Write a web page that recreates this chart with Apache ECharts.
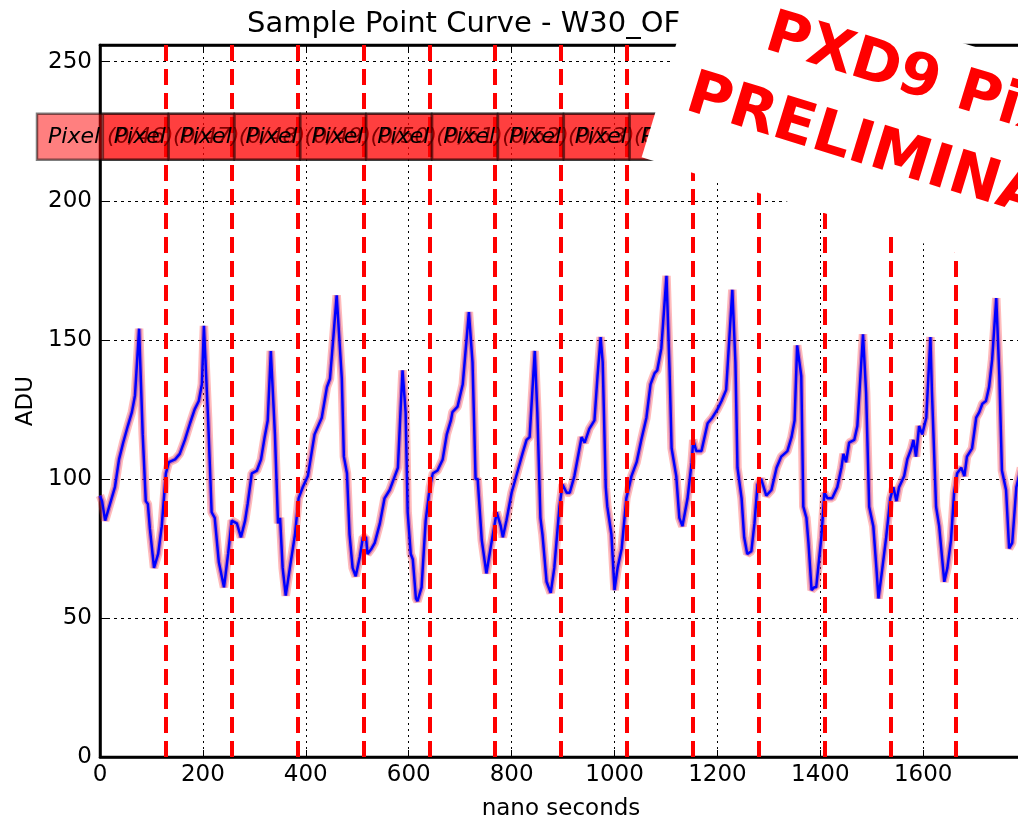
<!DOCTYPE html>
<html>
<head>
<meta charset="utf-8">
<title>Sample Point Curve</title>
<script src="https://cdn.jsdelivr.net/npm/echarts@6/dist/echarts.min.js"></script>
<style>
  html, body { margin: 0; padding: 0; background: #fff; }
  #chart { width: 1018px; height: 823px; }
</style>
</head>
<body>
<div id="chart"></div>
<script>
// sample times (ns) and mean ADU
var sampleNs = [0, 4, 10, 29, 37, 45, 54, 62, 68, 76, 83, 89, 93, 97, 105, 113, 120, 128, 134, 146, 155, 165, 175, 184, 192, 198, 202, 210, 217, 223, 231, 241, 249, 256, 266, 274, 282, 287, 295, 305, 313, 320, 326, 332, 340, 346, 350, 355, 361, 369, 379, 386, 394, 404, 417, 431, 441, 447, 454, 460, 470, 474, 480, 485, 491, 497, 505, 511, 517, 520, 528, 534, 544, 553, 563, 573, 579, 584, 588, 594, 598, 604, 608, 614, 617, 625, 633, 641, 647, 656, 666, 674, 682, 685, 695, 705, 717, 724, 730, 734, 742, 751, 759, 771, 779, 783, 790, 800, 812, 821, 829, 835, 845, 850, 856, 860, 868, 876, 883, 893, 899, 907, 913, 922, 936, 942, 951, 961, 967, 973, 977, 983, 986, 994, 1000, 1006, 1014, 1023, 1033, 1043, 1052, 1062, 1070, 1078, 1083, 1091, 1101, 1107, 1111, 1120, 1126, 1132, 1142, 1150, 1153, 1159, 1169, 1181, 1190, 1200, 1208, 1217, 1229, 1235, 1239, 1247, 1252, 1258, 1266, 1272, 1278, 1285, 1295, 1305, 1315, 1324, 1336, 1344, 1350, 1355, 1363, 1367, 1373, 1377, 1383, 1388, 1392, 1402, 1408, 1414, 1423, 1433, 1441, 1445, 1450, 1456, 1466, 1472, 1478, 1483, 1489, 1495, 1503, 1509, 1513, 1520, 1528, 1536, 1542, 1548, 1553, 1563, 1569, 1577, 1581, 1586, 1592, 1598, 1606, 1614, 1617, 1625, 1631, 1637, 1641, 1647, 1654, 1660, 1666, 1674, 1680, 1685, 1695, 1703, 1709, 1715, 1722, 1728, 1734, 1742, 1748, 1753, 1761, 1767, 1773, 1781, 1790];
var sampleAdu = [94, 92, 85, 97, 107, 113, 119, 124, 130, 154, 116, 92, 91, 82, 68, 73, 83, 102, 106, 107, 109, 114, 120, 125, 128, 134, 155, 122, 88, 86, 70, 61, 73, 85, 84, 79, 85, 91, 102, 103, 107, 115, 121, 146, 116, 84, 86, 68, 58, 68, 80, 93, 97, 101, 116, 122, 133, 136, 152, 166, 136, 108, 102, 80, 68, 65, 72, 79, 79, 73, 75, 77, 84, 93, 96, 101, 104, 124, 139, 124, 88, 73, 71, 57, 56, 61, 85, 97, 102, 103, 107, 116, 121, 124, 126, 134, 160, 142, 100, 100, 78, 66, 75, 88, 83, 79, 85, 95, 103, 109, 114, 115, 146, 124, 86, 80, 63, 59, 68, 90, 98, 95, 95, 101, 115, 113, 118, 121, 137, 151, 142, 97, 90, 80, 60, 68, 75, 93, 101, 106, 114, 122, 134, 138, 139, 147, 173, 139, 111, 101, 86, 83, 93, 106, 114, 110, 110, 120, 122, 125, 128, 132, 168, 142, 104, 93, 79, 73, 74, 84, 98, 100, 94, 96, 104, 108, 110, 115, 121, 148, 137, 90, 86, 77, 60, 61, 61, 79, 95, 93, 93, 97, 104, 109, 106, 113, 114, 119, 137, 152, 131, 90, 83, 68, 57, 67, 79, 93, 97, 92, 97, 101, 107, 111, 114, 108, 119, 116, 122, 151, 131, 90, 83, 71, 63, 68, 78, 95, 102, 104, 101, 108, 111, 122, 124, 127, 128, 133, 143, 165, 137, 103, 96, 75, 77, 97, 104];

// pixel boundaries (red dashed lines)
var boundaryNs = [128, 256, 384, 512, 640, 768, 896, 1024, 1152, 1280, 1408, 1536, 1664];

// pixel label boxes
var labelNs = [0, 128, 256, 384, 512, 640, 768, 896, 1024, 1152, 1280, 1408, 1536, 1664];
var labelAdu = 223;
var labelText = ['Pixel (0/46)', 'Pixel (0/47)', 'Pixel (0/48)', 'Pixel (0/49)', 'Pixel (0/50)', 'Pixel (0/51)', 'Pixel (0/52)', 'Pixel (0/53)', 'Pixel (0/54)', 'Pixel (0/55)', 'Pixel (0/56)', 'Pixel (0/57)', 'Pixel (0/58)', 'Pixel (0/59)'];

var xTicks = [0, 200, 400, 600, 800, 1000, 1200, 1400, 1600];
var yTicks = [0, 50, 100, 150, 200, 250];

var FONT = '"DejaVu Sans", "Liberation Sans", sans-serif';

var curve = sampleNs.map(function (t, i) { return [t, sampleAdu[i]]; });

var chart = echarts.init(document.getElementById('chart'), null, { renderer: 'canvas' });

var option = {
  backgroundColor: '#fff',
  animation: false,
  title: {
    text: 'Sample Point Curve - W30_OF',
    left: 242,
    top: 5,
    textStyle: { fontFamily: FONT, fontSize: 29, fontWeight: 'normal', color: '#000' }
  },
  grid: {
    left: 100, top: 45, right: -4, bottom: 66,
    outerBoundsMode: 'none',
    show: true, borderColor: '#000', borderWidth: 2.5, backgroundColor: 'transparent'
  },
  xAxis: [{
    type: 'value',
    min: 0, max: 1792, interval: 200,
    name: 'nano seconds',
    nameLocation: 'middle',
    nameGap: 41,
    nameTextStyle: { fontFamily: FONT, fontSize: 23, color: '#000' },
    axisLine: { show: true, lineStyle: { color: '#000', width: 2.5 } },
    axisTick: { show: true, inside: true, length: 7, lineStyle: { color: '#000', width: 1 } },
    axisLabel: { fontFamily: FONT, fontSize: 23, color: '#000', margin: 7, showMaxLabel: false,
      formatter: function (v) { return xTicks.indexOf(v) >= 0 ? String(v) : ''; } },
    splitLine: { show: true, lineStyle: { color: '#000', width: 1, type: [2, 4] } }
  }, {
    type: 'value', position: 'top',
    min: 0, max: 1792, interval: 200,
    axisLine: { show: true, lineStyle: { color: '#000', width: 2.5 } },
    axisTick: { show: true, inside: true, length: 7, lineStyle: { color: '#000', width: 1 } },
    axisLabel: { show: false },
    splitLine: { show: false }
  }],
  yAxis: {
    type: 'value',
    min: 0, max: 256, interval: 50,
    name: 'ADU',
    nameLocation: 'middle',
    nameGap: 62,
    nameTextStyle: { fontFamily: FONT, fontSize: 23, color: '#000' },
    axisLine: { show: true, lineStyle: { color: '#000', width: 2.5 } },
    axisTick: { show: true, inside: true, length: 7, lineStyle: { color: '#000', width: 1 } },
    axisLabel: { fontFamily: FONT, fontSize: 23, color: '#000', margin: 8, showMaxLabel: false,
      formatter: function (v) { return yTicks.indexOf(v) >= 0 ? String(v) : ''; } },
    splitLine: { show: true, lineStyle: { color: '#000', width: 1, type: [3, 4] } }
  },
  series: [
    {
      // spread band (red, semi transparent)
      type: 'line', data: curve, showSymbol: false, silent: true, z: 3,
      lineStyle: { color: 'rgba(255,60,60,0.35)', width: 8.5 }
    },
    {
      type: 'line', data: curve, showSymbol: false, silent: true, z: 4,
      lineStyle: { color: 'rgba(130,40,180,0.45)', width: 5 }
    },
    {
      type: 'line', data: curve, showSymbol: false, silent: true, z: 5,
      lineStyle: { color: '#0000ff', width: 2.5 },
      markLine: {
        silent: true, symbol: ['none', 'none'], z: 6,
        label: { show: false },
        lineStyle: { color: '#ff0000', width: 4, type: [16, 8] },
        data: boundaryNs.map(function (t) { return { xAxis: t }; })
      }
    },
    {
      type: 'custom', z: 8, silent: true, clip: false,
      data: labelNs.map(function (t) { return [t, labelAdu]; }),
      renderItem: function (params, api) {
        var p = api.coord([api.value(0), api.value(1)]);
        return {
          type: 'group',
          children: [{
            type: 'rect',
            shape: { x: p[0] - 63, y: p[1] - 23, width: 131, height: 46 },
            style: { fill: 'rgba(255,0,0,0.5)', stroke: 'rgba(0,0,0,0.5)', lineWidth: 2.5 }
          }, {
            type: 'text',
            x: p[0] - 52, y: p[1],
            style: { text: labelText[params.dataIndex], font: 'italic 22px ' + FONT, fill: '#000', verticalAlign: 'middle' }
          }]
        };
      }
    }
  ],
  graphic: [{
    type: 'group',
    x: 701, y: -37,
    rotation: -17 * Math.PI / 180,
    z: 100,
    children: [{
      type: 'rect', z: 100,
      shape: { x: 0, y: 0, width: 700, height: 203 },
      style: { fill: '#fff' }
    }, {
      type: 'text', z: 101, x: 84, y: 48,
      style: { text: 'PXD9 Pixel', font: 'bold 59px ' + FONT, fill: '#ff0000', verticalAlign: 'middle' }
    }, {
      type: 'text', z: 101, x: 26, y: 129,
      style: { text: 'PRELIMINARY', font: 'bold 60px ' + FONT, fill: '#ff0000', verticalAlign: 'middle' }
    }]
  }]
};

chart.setOption(option);
</script>
</body>
</html>
